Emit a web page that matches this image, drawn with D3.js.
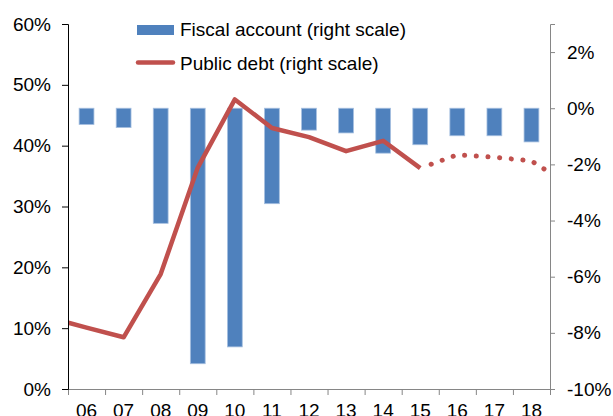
<!DOCTYPE html>
<html>
<head>
<meta charset="utf-8">
<script src="https://cdn.jsdelivr.net/npm/d3@7"></script>
<style>
body { margin: 0; background: #fff; }
text { font-family: "Liberation Sans", Arial, sans-serif; }
</style>
</head>
<body>
<script>
// data
var years = ["06", "07", "08", "09", "10", "11", "12", "13", "14", "15", "16", "17", "18"];
var fiscalAccount = [-0.58, -0.69, -4.1, -9.1, -8.5, -3.4, -0.78, -0.88, -1.6, -1.3, -0.98, -0.98, -1.2];

// public debt: "05" and "19" sit outside the plot and get clipped
var debtYears = ["05", "06", "07", "08", "09", "10", "11", "12", "13", "14", "15"];
var publicDebt = [11.7, 10.1, 8.5, 18.9, 36.4, 47.6, 42.9, 41.4, 39.1, 40.8, 36.3];
var forecastYears = ["15", "16", "17", "18", "19"];
var debtForecast = [36.3, 38.5, 38.1, 37.5, 33.6];

var leftTicks = [0, 10, 20, 30, 40, 50, 60];
var rightTicks = [-10, -8, -6, -4, -2, 0, 2];

var seriesNames = ["Fiscal account (right scale)", "Public debt (right scale)"];
var colors = {bar: "#4F81BD", line: "#C0504D"};

// set the dimensions of the graph
var W = 613, H = 416;
var plot = {left: 68, right: 550, top: 24, bottom: 389};
var fontSize = '19px';

var svg = d3.select('body')
    .append('svg')
    .attr('width', W)
    .attr('height', H);

// scales
var x = d3.scaleBand()
    .domain(years)
    .range([plot.left, plot.right])
    .paddingInner(0.6)
    .paddingOuter(0.3);
var xEdge = d3.scaleLinear().domain([0, years.length]).range([plot.left, plot.right]);
var xYear = d3.scaleLinear()
    .domain([+years[0], +years[years.length - 1]])
    .range([x(years[0]) + x.bandwidth() / 2, x(years[years.length - 1]) + x.bandwidth() / 2]);
var yLeft = d3.scaleLinear().domain([0, 60]).range([plot.bottom, plot.top]);
var yRight = d3.scaleLinear().domain([-10, 3]).range([plot.bottom, plot.top]);

svg.append('clipPath')
    .attr('id', 'plotClip')
    .append('rect')
    .attr('x', plot.left)
    .attr('y', 0)
    .attr('width', plot.right - plot.left)
    .attr('height', H);

// bars (right scale)
svg.append('g')
    .selectAll('rect')
    .data(years)
    .enter()
    .append('rect')
    .attr('x', function (d) { return x(d); })
    .attr('width', x.bandwidth())
    .attr('y', function (d, i) { return yRight(Math.max(0, fiscalAccount[i])); })
    .attr('height', function (d, i) { return Math.abs(yRight(fiscalAccount[i]) - yRight(0)); })
    .style('fill', colors.bar)
    .style('stroke', '#A7C0E0')
    .style('stroke-width', 0.8);

// public debt line (left scale)
var debtLine = d3.line()
    .x(function (d) { return xYear(+d.year); })
    .y(function (d) { return yLeft(d.value); });

var actual = debtYears.map(function (d, i) { return {year: d, value: publicDebt[i]}; });
var forecast = forecastYears.map(function (d, i) { return {year: d, value: debtForecast[i]}; });

var lines = svg.append('g').attr('clip-path', 'url(#plotClip)');
lines.append('path')
    .datum(actual)
    .attr('d', debtLine)
    .style('fill', 'none')
    .style('stroke', colors.line)
    .style('stroke-width', 4.5)
    .style('stroke-linejoin', 'round');
lines.append('path')
    .datum(forecast)
    .attr('d', debtLine)
    .style('fill', 'none')
    .style('stroke', colors.line)
    .style('stroke-width', 5)
    .style('stroke-linecap', 'round')
    .style('stroke-dasharray', '0.1 11.6')
    .style('stroke-dashoffset', -11.6);

// axes
var bottomTicks = svg.append('g')
    .attr('transform', 'translate(0,' + plot.bottom + ')')
    .call(d3.axisBottom(xEdge).ticks(years.length).tickSize(6).tickFormat(''));
bottomTicks.selectAll('path, line').attr('stroke', '#868686');

var bottomLabels = svg.append('g')
    .attr('transform', 'translate(0,' + plot.bottom + ')')
    .call(d3.axisBottom(x).tickSize(0).tickPadding(15));
bottomLabels.select('.domain').remove();

var leftAxis = svg.append('g')
    .attr('transform', 'translate(' + plot.left + ',0)')
    .call(d3.axisLeft(yLeft).tickValues(leftTicks).tickSize(6).tickPadding(11)
        .tickFormat(function (d) { return d + '%'; }));
leftAxis.selectAll('path, line').attr('stroke', '#000');

var rightAxis = svg.append('g')
    .attr('transform', 'translate(' + plot.right + ',0)')
    .call(d3.axisRight(yRight).tickValues(rightTicks).tickSize(5).tickPadding(12)
        .tickFormat(function (d) { return d + '%'; }));
rightAxis.selectAll('path, line').attr('stroke', '#868686');

svg.selectAll('.tick text')
    .style('font-size', fontSize)
    .style('font-family', '"Liberation Sans", Arial, sans-serif')
    .attr('fill', '#000');

// legend
var legend = svg.append('g');
legend.append('rect')
    .attr('x', 137).attr('y', 25)
    .attr('width', 37).attr('height', 10)
    .style('fill', colors.bar);
legend.append('line')
    .attr('x1', 138).attr('x2', 173)
    .attr('y1', 62.5).attr('y2', 62.5)
    .style('stroke', colors.line)
    .style('stroke-width', 4.5)
    .style('stroke-linecap', 'round');
legend.selectAll('text')
    .data(seriesNames)
    .enter()
    .append('text')
    .attr('x', 180)
    .attr('y', function (d, i) { return 36 + i * 34; })
    .style('font-size', fontSize)
    .text(function (d) { return d; });
</script>
</body>
</html>
